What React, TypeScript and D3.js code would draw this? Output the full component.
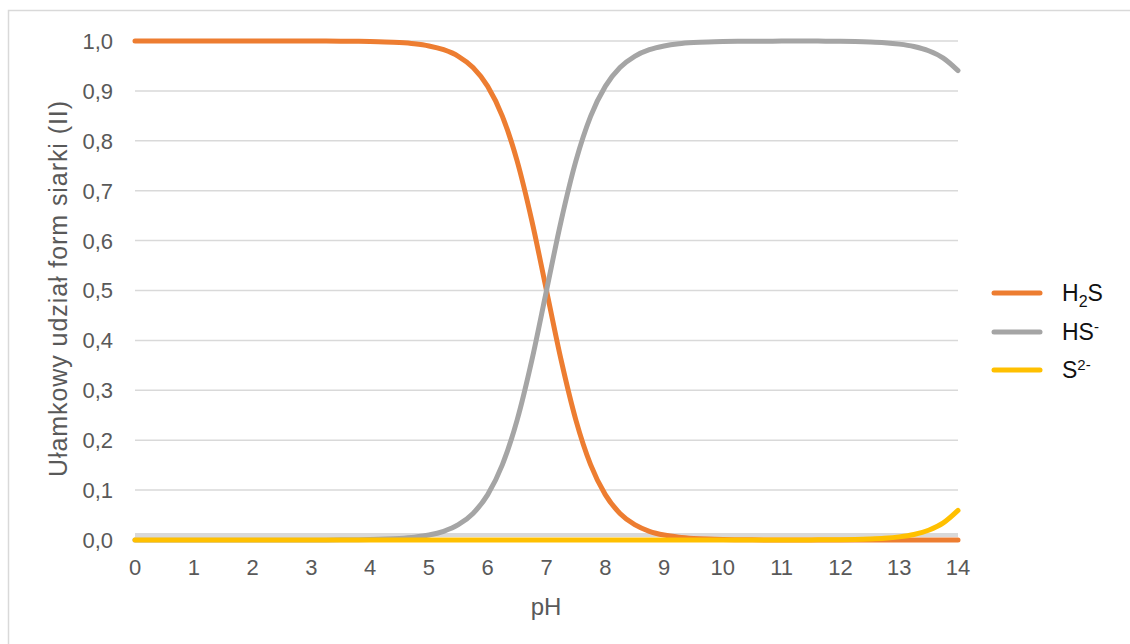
import React from "react";
import * as d3 from "d3";

const pH = [
  0, 0.25, 0.5, 0.75, 1, 1.25, 1.5, 1.75, 2, 2.25, 2.5, 2.75, 3, 3.25, 3.5, 3.75,
  4, 4.25, 4.5, 4.75, 5, 5.25, 5.5, 5.75, 6, 6.25, 6.5, 6.75, 7, 7.25, 7.5, 7.75,
  8, 8.25, 8.5, 8.75, 9, 9.25, 9.5, 9.75, 10, 10.25, 10.5, 10.75, 11, 11.25, 11.5, 11.75,
  12, 12.25, 12.5, 12.75, 13, 13.25, 13.5, 13.75, 14,
];

const h2s = [
  1, 1, 1, 1, 1, 1, 1, 1, 1, 1, 1, 1, 0.9999, 0.9998, 0.9997, 0.9994,
  0.999, 0.9982, 0.9968, 0.9944, 0.9901, 0.9825, 0.9694, 0.9468, 0.9091, 0.849, 0.7598, 0.6401,
  0.5, 0.3599, 0.2403, 0.151, 0.0909, 0.0532, 0.0307, 0.0175, 0.0099, 0.0056, 0.0032, 0.0018,
  0.001, 0.0006, 0.0003, 0.0002, 0.0001, 0.0001, 0, 0, 0, 0, 0, 0, 0, 0, 0, 0, 0,
];

const hs = [
  0, 0, 0, 0, 0, 0, 0, 0, 0, 0, 0, 0, 0.0001, 0.0002, 0.0003, 0.0006,
  0.001, 0.0018, 0.0032, 0.0056, 0.0099, 0.0175, 0.0306, 0.0532, 0.0909, 0.151, 0.2402, 0.3599,
  0.5, 0.6401, 0.7597, 0.849, 0.9091, 0.9468, 0.9693, 0.9825, 0.99, 0.9944, 0.9968, 0.9982,
  0.999, 0.9994, 0.9996, 0.9997, 0.9998, 0.9998, 0.9998, 0.9997, 0.9994, 0.9989, 0.998, 0.9965,
  0.9937, 0.9889, 0.9804, 0.9657, 0.9407,
];

const s2 = [
  0, 0, 0, 0, 0, 0, 0, 0, 0, 0, 0, 0, 0, 0, 0, 0,
  0, 0, 0, 0, 0, 0, 0, 0, 0, 0, 0, 0, 0, 0, 0, 0,
  0, 0, 0, 0, 0, 0, 0, 0, 0, 0, 0, 0, 0.0001, 0.0001, 0.0002, 0.0004,
  0.0006, 0.0011, 0.002, 0.0035, 0.0063, 0.0111, 0.0196, 0.0343, 0.0593,
];

const xTicks = [0, 1, 2, 3, 4, 5, 6, 7, 8, 9, 10, 11, 12, 13, 14];
const yTicks = [0, 0.1, 0.2, 0.3, 0.4, 0.5, 0.6, 0.7, 0.8, 0.9, 1.0];

const seriesNames = ["H2S", "HS-", "S2-"];
const seriesColors = ["#ED7D31", "#A5A5A5", "#FFC000"];
const seriesData = [h2s, hs, s2];

const W = 1130;
const H = 644;
const FONT = "'Liberation Sans', Arial, Helvetica, sans-serif";

function LegendLabel({ name }: { name: string }) {
  if (name === "H2S")
    return (
      <>
        H<tspan fontSize={16} dy={6}>2</tspan>
        <tspan dy={-6}>S</tspan>
      </>
    );
  if (name === "HS-")
    return (
      <>
        HS<tspan fontSize={15} dy={-8}>-</tspan>
      </>
    );
  return (
    <>
      S<tspan fontSize={15} dy={-8}>2-</tspan>
    </>
  );
}

export default function App() {
  const x = d3.scaleLinear().domain([0, 14]).range([135, 958]);
  const y = d3.scaleLinear().domain([0, 1]).range([540, 41]);
  const fmt = (v: number) => v.toFixed(1).replace(".", ",");

  const line = (vals: number[]) =>
    d3
      .line<number>()
      .x((_, i) => x(pH[i]))
      .y((v) => y(v))
      .curve(d3.curveMonotoneX)(vals) || "";

  const legendY = [293, 332, 370];

  return (
    <svg
      width={W}
      height={H}
      style={{ position: "absolute", left: 0, top: 0, background: "#fff" }}
      fontFamily={FONT}
    >
      <rect x={8.5} y={10.5} width={W + 10} height={H + 10} fill="#fff" stroke="#d9d9d9" strokeWidth={1.5} />
      {yTicks.map((t) => (
        <g key={t}>
          {t > 0 && (
            <line x1={x(0)} x2={x(14)} y1={y(t)} y2={y(t)} stroke="#d9d9d9" strokeWidth={1.5} />
          )}
          <text x={113} y={y(t)} dy="0.36em" textAnchor="end" fontSize={22} fill="#595959">
            {fmt(t)}
          </text>
        </g>
      ))}
      <line x1={x(0)} x2={x(14)} y1={y(0.01)} y2={y(0.01)} stroke="#d9d9d9" strokeWidth={4} />
      {xTicks.map((t) => (
        <text key={t} x={x(t)} y={575} textAnchor="middle" fontSize={22} fill="#595959">
          {t}
        </text>
      ))}
      <text x={546} y={615} textAnchor="middle" fontSize={24} fill="#595959">
        pH
      </text>
      <text
        transform={`translate(67,289) rotate(-90)`}
        textAnchor="middle"
        fontSize={25}
        textLength={376}
        lengthAdjust="spacing"
        fill="#595959"
      >
        Ułamkowy udział form siarki (II)
      </text>
      {seriesData.map((d, i) => (
        <path
          key={i}
          d={line(d)}
          fill="none"
          stroke={seriesColors[i]}
          strokeWidth={5}
          strokeLinejoin="round"
          strokeLinecap="round"
        />
      ))}
      {seriesNames.map((n, i) => (
        <g key={n}>
          <line
            x1={994}
            x2={1040}
            y1={legendY[i]}
            y2={legendY[i]}
            stroke={seriesColors[i]}
            strokeWidth={5}
            strokeLinecap="round"
          />
          <text x={1062} y={legendY[i]} dy="0.36em" fontSize={23} fill="#111">
            <LegendLabel name={n} />
          </text>
        </g>
      ))}
    </svg>
  );
}
